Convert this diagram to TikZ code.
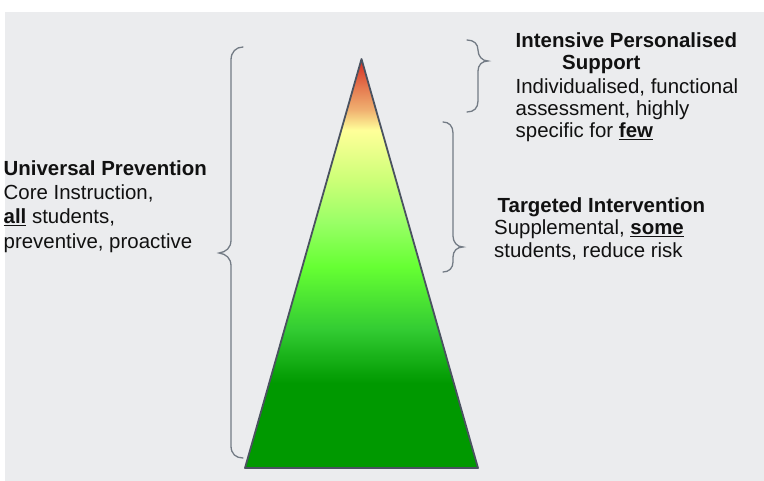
\documentclass[tikz,border=0pt]{standalone}
\usepackage{fontspec}
\setmainfont{Liberation Sans}
\definecolor{canvas}{HTML}{EBECEE}
\definecolor{bracegray}{HTML}{737B85}
\definecolor{edgegray}{HTML}{4A5260}
\definecolor{inkblack}{HTML}{111111}
\definecolor{gDark}{HTML}{009900}
\definecolor{gMid}{HTML}{33CC33}
\definecolor{gBright}{HTML}{66FF33}
\definecolor{gLight}{HTML}{99FF66}
\definecolor{gPale}{HTML}{CCFF77}
\definecolor{yPale}{HTML}{FFFF99}
\definecolor{oSoft}{HTML}{F0B070}
\definecolor{oDeep}{HTML}{E57A50}
\definecolor{rTop}{HTML}{D42A20}
% bottom (25bp) to apex (75bp) of the pyramid
\pgfdeclareverticalshading{pyramid}{100bp}{%
  color(0bp)=(gDark);
  color(35.4bp)=(gDark);
  color(42bp)=(gMid);
  color(49.6bp)=(gBright);
  color(55bp)=(gLight);
  color(60.2bp)=(gPale);
  color(66.3bp)=(yPale);
  color(68.8bp)=(oSoft);
  color(71.5bp)=(oDeep);
  color(75bp)=(rTop);
  color(100bp)=(rTop)}
\tikzset{
  label/.style={anchor=base west, inner sep=0pt, text=inkblack,
    font=\fontsize{20.5}{24}\selectfont},
  brace/.style={draw=bracegray, line width=1.3pt, line cap=round},
}
\begin{document}
\begin{tikzpicture}[x=1bp, y=-1bp]
  % page and panel
  \fill[white] (0,0) rectangle (764,481);
  \fill[canvas] (5,12) rectangle (764,481);
  \useasboundingbox (0,0) rectangle (764,481);

  % pyramid
  \coordinate (apex) at (361.5,59);
  \coordinate (baseL) at (245,468);
  \coordinate (baseR) at (478,468);
  \shadedraw[shading=pyramid, draw=edgegray, line width=1.8pt, line join=round]
    (apex) -- (baseR) -- (baseL) -- cycle;

  % brace for the whole pyramid, pointing left
  \draw[brace] (243,47) .. controls (236,47) and (231,52) .. (231,60)
    -- (231,240) .. controls (231,248) and (226,252) .. (219,253)
    .. controls (226,254) and (231,258) .. (231,266)
    -- (231,446) .. controls (231,454) and (236,458) .. (243,458);

  % brace for the tip, pointing right
  \draw[brace] (467,40) .. controls (474,40) and (478,44) .. (478,50)
    .. controls (478,56) and (482,61) .. (488,61)
    .. controls (482,61) and (478,65) .. (478,71)
    -- (478,101) .. controls (478,108) and (474,112) .. (467,112);

  % brace for the middle band, pointing right
  \draw[brace] (443,122) .. controls (449,122) and (453,126) .. (453,133)
    -- (453,236) .. controls (453,242) and (457,247) .. (463,247)
    .. controls (457,247) and (453,251) .. (453,257)
    -- (453,262) .. controls (453,268) and (449,272) .. (443,272);

  % universal tier
  \node[label] (uHead) at (3.5,175.5) {\textbf{Universal Prevention}};
  \node[label] (uL1) at (3.5,199.7) {Core Instruction,};
  \node[label] (uL2) at (3.5,223.9) {\underline{\textbf{all}} students,};
  \node[label] (uL3) at (3.5,248.1) {preventive, proactive};

  % intensive tier
  \node[label] (iHead) at (515.5,47.3) {\textbf{Intensive Personalised}};
  \node[label] (iHead2) at (562,70) {\textbf{Support}};
  \node[label] (iL1) at (515.5,93.3) {Individualised, functional};
  \node[label] (iL2) at (515.5,115.7) {assessment, highly};
  \node[label] (iL3) at (515.5,137.5) {specific for \underline{\textbf{few}}};

  % targeted tier
  \node[label] (tHead) at (497.5,212.3) {\textbf{Targeted Intervention}};
  \node[label] (tL1) at (494,235) {Supplemental, \underline{\textbf{some}}};
  \node[label] (tL2) at (494,257.3) {students, reduce risk};
\end{tikzpicture}
\end{document}
